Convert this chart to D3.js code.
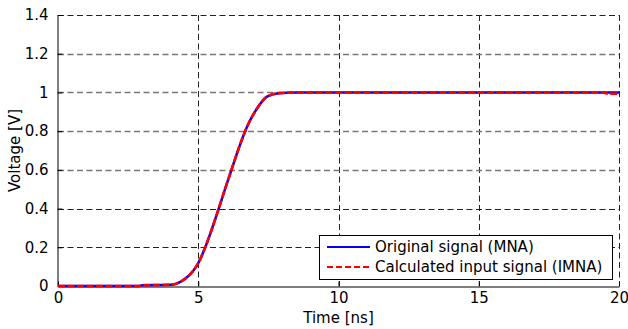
<!DOCTYPE html>
<html>
<head>
<meta charset="utf-8">
<script src="https://cdn.jsdelivr.net/npm/d3@7"></script>
<style>
  body { margin: 0; background: #fff; }
  text { font-family: "DejaVu Sans", Verdana, sans-serif; font-size: 15px; fill: #000; }
</style>
</head>
<body>
<svg width="628" height="329"></svg>
<script>
// data
var timeNs = [0, 2.9, 3.0, 4.0, 4.42, 4.83, 5.0, 5.25, 5.49, 5.73, 5.96, 6.2, 6.44, 6.74, 7.1, 7.45, 7.87, 8.5, 19.4, 19.6, 20];
var originalV = [0, 0, 0.004, 0.006, 0.026, 0.08, 0.118, 0.2, 0.296, 0.4, 0.503, 0.607, 0.71, 0.823, 0.918, 0.978, 0.996, 1, 1, 1, 1];
var calculatedV = [0, 0, 0.004, 0.006, 0.026, 0.08, 0.118, 0.2, 0.296, 0.4, 0.503, 0.607, 0.71, 0.823, 0.918, 0.978, 0.996, 1, 1, 0.994, 0.993];
var xTicks = [0, 5, 10, 15, 20];
var yTicks = [0, 0.2, 0.4, 0.6, 0.8, 1, 1.2, 1.4];
var seriesNames = ['Original signal (MNA)', 'Calculated input signal (IMNA)'];

var mLeft = 58, mTop = 15, mRight = 619, mBottom = 286;

var svg = d3.select('svg');
var x = d3.scaleLinear().domain([0, 20]).range([mLeft, mRight]);
var y = d3.scaleLinear().domain([0, 1.4]).range([mBottom, mTop]);

// grid lines that land between pixels come out grey and soft
function soft(d) { return d > 0.5 && d < 1.3; }

// dashed grid (also draws top and right edges)
var grid = svg.append('g');
grid.selectAll('.gx').data(xTicks.slice(1)).enter().append('line')
	.attr('x1', function(d){return Math.round(x(d)) + 0.5;})
	.attr('x2', function(d){return Math.round(x(d)) + 0.5;})
	.attr('y1', mTop).attr('y2', mBottom)
	.style('stroke', '#222').style('stroke-dasharray', '6,3.5');
grid.selectAll('.gy').data(yTicks.slice(1)).enter().append('line')
	.attr('y1', function(d){return Math.round(y(d)) + 0.5;})
	.attr('y2', function(d){return Math.round(y(d)) + 0.5;})
	.attr('x1', mLeft).attr('x2', mRight)
	.style('stroke', function(d){return soft(d) ? '#777' : '#222';})
	.style('stroke-width', function(d){return soft(d) ? 1.5 : 1;})
	.style('stroke-dasharray', '6,3.5');

// axes
var xAxis = d3.axisBottom(x).tickValues(xTicks).tickSizeInner(-5).tickSizeOuter(0).tickPadding(9).tickFormat(d3.format('d'));
var yAxis = d3.axisLeft(y).tickValues(yTicks).tickSizeInner(-5).tickSizeOuter(0).tickPadding(9).tickFormat(function(d){return String(+d.toFixed(1));});

var gx = svg.append('g').attr('transform', 'translate(0,' + (mBottom + 0.5) + ')').call(xAxis);
var gy = svg.append('g').attr('transform', 'translate(' + (mLeft - 0.5) + ',0)').call(yAxis);
[gx, gy].forEach(function(g){
	g.selectAll('path,line').style('stroke', '#000');
	g.selectAll('text').style('font-size', '15px').style('font-family', '"DejaVu Sans", Verdana, sans-serif');
});
gx.selectAll('text').attr('dy', '0.52em');

// axis titles
svg.append('text').attr('x', (mLeft + mRight) / 2).attr('y', 323).attr('text-anchor', 'middle').text('Time [ns]');
svg.append('text').attr('transform', 'translate(20,' + ((mTop + mBottom) / 2) + ') rotate(-90)').attr('text-anchor', 'middle').text('Voltage [V]');

// lines
var line = d3.line()
	.x(function(d){return x(d[0]);})
	.y(function(d){return y(d[1]);})
	.curve(d3.curveMonotoneX);

var orig = timeNs.map(function(t, i){return [t, originalV[i]];});
var calc = timeNs.map(function(t, i){return [t, calculatedV[i]];});

svg.append('path').datum(orig).attr('d', line)
	.style('fill', 'none').style('stroke', '#0000ff').style('stroke-width', 2.5);
svg.append('path').datum(calc).attr('d', line)
	.style('fill', 'none').style('stroke', '#ff0000').style('stroke-width', 2.7).style('stroke-dasharray', '7,2.5');

// legend
var lg = svg.append('g');
lg.append('rect').attr('x', 319.5).attr('y', 235.5).attr('width', 293).attr('height', 44)
	.style('fill', '#fff').style('stroke', '#000');
var styles = [{c: '#0000ff', dash: null}, {c: '#ff0000', dash: '6,3'}];
seriesNames.forEach(function(name, i){
	var yy = 247 + i * 20;
	lg.append('line').attr('x1', 327).attr('x2', 370).attr('y1', yy).attr('y2', yy)
		.style('stroke', styles[i].c).style('stroke-width', 2).style('stroke-dasharray', styles[i].dash);
	lg.append('text').attr('x', 375).attr('y', yy).attr('dy', '0.35em').text(name);
});
</script>
</body>
</html>
